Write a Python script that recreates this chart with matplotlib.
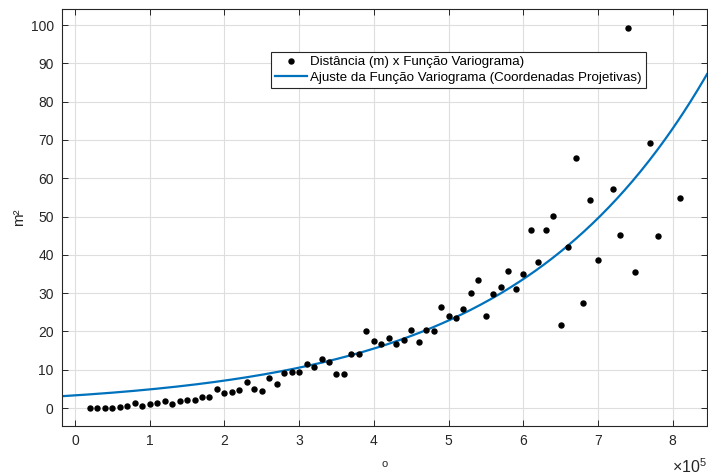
import numpy as np
import matplotlib
matplotlib.use("Agg")
import matplotlib.pyplot as plt
from matplotlib.ticker import FuncFormatter

# Distances (in units of 1e5 m) and variogram values
dist_1e5 = [0.2, 0.3, 0.4, 0.5, 0.6, 0.7, 0.8, 0.9, 1.0, 1.1, 1.2, 1.3, 1.4, 1.5,
            1.6, 1.7, 1.8, 1.9, 2.0, 2.1, 2.2, 2.3, 2.4, 2.5, 2.6, 2.7, 2.8, 2.9,
            3.0, 3.1, 3.2, 3.3, 3.4, 3.5, 3.6, 3.7, 3.8, 3.9, 4.0, 4.1, 4.2, 4.3,
            4.4, 4.5, 4.6, 4.7, 4.8, 4.9, 5.0, 5.1, 5.2, 5.3, 5.4, 5.5, 5.6, 5.7,
            5.8, 5.9, 6.0, 6.1, 6.2, 6.3, 6.4, 6.5, 6.6, 6.7, 6.8, 6.9, 7.0, 7.2,
            7.3, 7.4, 7.5, 7.7, 7.8, 8.1]
variogram = [0.0, 0.0, 0.0, 0.1, 0.3, 0.5, 1.3, 0.6, 1.0, 1.4, 1.7, 1.1, 1.7, 2.0,
             2.0, 2.8, 2.8, 4.9, 3.9, 4.3, 4.6, 6.7, 4.9, 4.5, 7.9, 6.2, 9.1, 9.4,
             9.3, 11.4, 10.8, 12.8, 11.9, 8.8, 9.0, 14.1, 14.2, 20.1, 17.6, 16.8, 18.4, 16.6,
             17.7, 20.4, 17.3, 20.4, 20.2, 26.3, 24.0, 23.4, 25.8, 30.1, 33.3, 24.1, 29.7, 31.6,
             35.9, 31.0, 34.9, 46.4, 38.2, 46.6, 50.1, 21.8, 42.0, 65.3, 27.5, 54.4, 38.6, 57.2,
             45.2, 99.3, 35.6, 69.1, 44.8, 54.8]

# Fitted model (exponential) parameters, x in units of 1e5 m
fit_a = 3.3
fit_b = 0.387

y_ticks = [0, 10, 20, 30, 40, 50, 60, 70, 80, 90, 100]
x_ticks_1e5 = [0, 1, 2, 3, 4, 5, 6, 7, 8]

label_points = "Distância (m) x Função Variograma)"
label_fit = "Ajuste da Função Variograma (Coordenadas Projetivas)"

plt.rcParams['font.family'] = ['Liberation Sans', 'DejaVu Sans']
plt.rcParams['mathtext.fontset'] = 'custom'
plt.rcParams['mathtext.rm'] = 'Liberation Sans'
plt.rcParams['mathtext.it'] = 'Liberation Sans'
txt = '#262626'

fig = plt.figure(figsize=(7.08, 4.75), dpi=100)
ax = fig.add_axes([62/708, 1 - 426/475, (707 - 62)/708, (426 - 9)/475])

x = np.array(dist_1e5) * 1e5
ax.plot(x, variogram, 'o', color='black', markersize=3.6, linestyle='none',
        label=label_points, zorder=3)

xlim = (-0.174e5, 8.46e5)
xx = np.linspace(xlim[0], xlim[1], 400)
ax.plot(xx, fit_a * np.exp(fit_b * xx / 1e5), color='#0072BD', linewidth=1.6,
        label=label_fit, zorder=2)

ax.set_xlim(*xlim)
ax.set_ylim(-4.7, 104.2)
ax.set_xticks(np.array(x_ticks_1e5) * 1e5)
ax.set_yticks(y_ticks)
ax.xaxis.set_major_formatter(FuncFormatter(lambda v, p: f"{v/1e5:g}"))

fig.text(707/708, 1 - 467/475, r'$\times10^{5}$', ha='right', va='center',
         fontsize=11.5, color=txt)

ax.grid(True, color='#dedede', linewidth=0.8)
ax.set_axisbelow(True)
ax.tick_params(direction='in', length=4.5, width=0.7, colors=txt, labelsize=10,
               top=True, right=True, labelcolor=txt, pad=6)
for s in ax.spines.values():
    s.set_color(txt)
    s.set_linewidth(0.8)

ax.set_xlabel('o', fontsize=8, color=txt, labelpad=8)
ax.set_ylabel('m²', fontsize=11, color=txt, labelpad=3)

leg = ax.legend(loc='upper right', bbox_to_anchor=(0.905, 0.897), borderaxespad=0,
                fontsize=9.6, frameon=True, fancybox=False, framealpha=1,
                edgecolor=txt, handlelength=2.4, borderpad=0.3, labelspacing=0.25,
                handletextpad=0.2)
leg.get_frame().set_linewidth(0.8)

fig.savefig('out.png', dpi=100)
